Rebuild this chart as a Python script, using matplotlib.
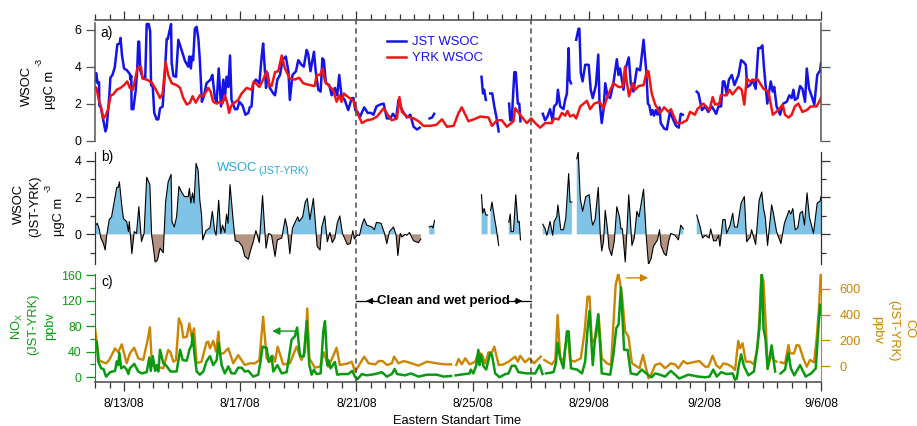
import numpy as np
import matplotlib
matplotlib.use('Agg')
import matplotlib.pyplot as plt

plt.rcParams['font.family'] = ['Liberation Sans', 'DejaVu Sans']

nan = float('nan')

# dados: (dias desde 8/12/08, valor)
jstWsoc = [(0,3.2),(.04,3.65),(.09,3.1),(.14,3.15),(.15,1.9),(.2,1.8),(.25,1.4),(.3,1.0),(.36,.5),(.4,.7),(.45,1.6),(.5,2.6),(.53,3.4),(.6,3.55),(.68,3.95),(.72,4.5),(.77,5.2),(.85,5.25),(.88,5.55),(.93,4.6),(1,3.9),(1.1,3.8),(1.2,3.6),(1.22,3.3),(1.25,3.5),(1.26,1.7),(1.32,1.7),(1.4,2.7),(1.45,3.7),(1.49,5.35),(1.52,5.35),(1.56,3.8),(1.64,3.4),(1.73,3.4),(1.78,6.3),(1.85,6.3),(1.9,5.9),(1.93,3.0),(1.99,2.9),(2.04,1.5),(2.12,1.15),(2.18,1.15),(2.24,1.75),(2.33,1.85),(2.41,3.8),(2.47,5.5),(2.51,5.5),(2.56,5.9),(2.62,6.3),(2.64,4.2),(2.7,3.5),(2.79,3.45),(2.87,5.45),(2.98,4.9),(3.1,4.3),(3.21,4.0),(3.25,4.55),(3.3,3.9),(3.34,4.55),(3.38,4.35),(3.44,6.05),(3.5,6.15),(3.56,5.5),(3.61,4.35),(3.68,2.1),(3.75,2.4),(3.84,3.1),(3.98,3.3),(4.04,3.55),(4.13,2.3),(4.19,2.1),(4.26,3.9),(4.34,1.85),(4.42,3.3),(4.47,2.2),(4.53,3.45),(4.59,2.9),(4.65,4.6),(4.7,2.2),(4.82,1.7),(4.9,1.7),(4.97,2.1),(5.08,1.9),(5.18,1.4),(5.28,1.5),(5.33,1.8),(5.39,1.85),(5.45,3.1),(5.54,3.3),(5.66,3.1),(5.74,4.55),(5.79,5.25),(5.89,2.85),(5.94,3.65),(6.02,2.85),(6.14,2.55),(6.2,2.45),(6.28,3.3),(6.37,3.55),(6.46,4.35),(6.57,4.55),(6.66,3.75),(6.71,2.2),(6.8,3.55),(6.92,3.75),(7,4.35),(7.11,4.1),(7.19,4.0),(7.29,4.9),(7.34,4.7),(7.42,3.75),(7.54,4.8),(7.6,3.75),(7.69,2.75),(7.77,2.65),(7.83,4.45),(7.88,4.35),(7.95,3.1),(8.07,3.0),(8.15,2.45),(8.26,2.85),(8.34,2.45),(8.41,3.55),(8.49,2.4),(8.6,2.2),(8.72,1.65),(8.84,2.3),(8.9,2.3),(8.96,1.65),(9.04,1.55),(9.13,1.3),(9.27,1.8),(9.39,1.5),(9.5,1.5),(9.59,1.4),(9.69,1.85),(9.82,1.95),(9.94,2.0),(10.05,1.2),(10.17,1.2),(10.26,1.45),(10.37,1.2),(10.45,2.2),(10.57,1.65),(10.74,1.25),(10.86,1.4),(10.97,.75),(11.09,.6),(11.18,.7),(11.3,nan),(11.52,1.2),(11.61,1.25),(11.68,1.45),(12,nan),(13.31,3.45),(13.36,2.55),(13.4,2.75),(13.46,2.2),(13.5,nan),(13.61,2.55),(13.68,2.55),(13.75,1.85),(13.82,1.3),(13.9,.5),(14,nan),(14.26,2.0),(14.3,1.1),(14.35,1.1),(14.44,3.7),(14.49,3.7),(14.56,2.0),(14.61,2.0),(14.65,1.05),(15,nan),(15.42,1.45),(15.5,1.1),(15.58,1.3),(15.67,1.7),(15.76,1.05),(15.81,1.85),(15.9,2.0),(15.94,2.75),(16.02,1.85),(16.13,1.7),(16.19,2.2),(16.25,2.55),(16.31,5.0),(16.34,3.3),(16.39,3.1),(16.45,nan),(16.57,5.45),(16.65,6.05),(16.68,6.05),(16.73,3.65),(16.79,3.2),(16.88,4.1),(17,4.1),(17.07,2.75),(17.14,2.3),(17.25,3.0),(17.33,4.65),(17.37,2.2),(17.45,.95),(17.51,1.65),(17.57,3.1),(17.65,2.4),(17.74,2.3),(17.85,3.1),(17.97,4.4),(18.03,3.55),(18.08,3.9),(18.2,2.75),(18.29,4.0),(18.38,4.5),(18.45,3.1),(18.54,2.65),(18.66,3.9),(18.77,3.8),(18.89,5.45),(18.98,3.8),(19.04,2.0),(19.09,1.9),(19.15,1.4),(19.2,1.65),(19.25,1.35),(19.31,1.65),(19.37,1.4),(19.44,1.8),(19.48,.95),(19.6,.65),(19.69,.6),(19.8,1.55),(19.92,1.1),(20.01,.8),(20.1,.7),(20.17,1.45),(20.24,1.4),(20.5,nan),(20.72,2.65),(20.78,2.55),(20.84,2.1),(20.9,1.65),(21.01,1.85),(21.12,1.55),(21.24,1.85),(21.39,1.45),(21.47,1.85),(21.56,1.85),(21.62,3.2),(21.67,3.2),(21.75,2.55),(21.83,3.3),(21.93,3.55),(22.02,3.0),(22.16,3.55),(22.25,4.35),(22.33,4.25),(22.41,4.1),(22.46,2.9),(22.56,3.0),(22.64,3.3),(22.75,2.8),(22.84,5.0),(22.92,5.0),(22.98,5.15),(23.04,3.9),(23.15,2.0),(23.27,3.2),(23.34,2.65),(23.39,2.9),(23.47,1.85),(23.59,1.4),(23.7,2.0),(23.82,2.1),(23.91,2.45),(23.99,2.3),(24.05,2.75),(24.1,2.2),(24.19,2.3),(24.28,2.95),(24.36,2.8),(24.45,2.1),(24.51,3.9),(24.59,2.8),(24.68,2.4),(24.77,1.95),(24.87,3.55),(24.97,3.8),(25,4.2)]

yrkWsoc = [(0,2.9),(.05,2.85),(.13,2.2),(.2,1.85),(.29,1.2),(.38,1.4),(.46,1.75),(.54,2.45),(.63,2.5),(.75,2.75),(.88,2.85),(1,3.0),(1.11,3.2),(1.2,2.85),(1.3,2.75),(1.38,3.3),(1.46,3.9),(1.58,4.0),(1.64,3.35),(1.78,3.3),(1.95,3.15),(2.1,2.75),(2.24,2.3),(2.33,2.55),(2.43,4.25),(2.52,3.55),(2.64,3.1),(2.81,3.0),(2.93,2.85),(3.04,2.3),(3.16,1.95),(3.27,2.05),(3.36,2.4),(3.47,2.05),(3.61,2.45),(3.73,2.4),(3.9,2.85),(3.98,2.65),(4.07,2.1),(4.19,2.0),(4.3,2.1),(4.39,2.0),(4.47,2.45),(4.56,2.0),(4.62,1.5),(4.68,1.85),(4.76,2.0),(4.93,2.2),(5.05,2.55),(5.22,2.85),(5.39,2.75),(5.47,3.2),(5.66,2.9),(5.79,3.3),(5.91,3.75),(6,3.0),(6.08,2.95),(6.2,3.7),(6.31,3.75),(6.43,4.6),(6.54,3.9),(6.71,3.35),(6.88,3.3),(7.03,3.4),(7.17,3.1),(7.4,3.0),(7.57,2.95),(7.63,3.55),(7.75,3.55),(7.84,3.9),(7.92,3.2),(8.09,2.9),(8.2,2.75),(8.32,2.1),(8.41,2.45),(8.49,2.1),(8.57,2.55),(8.72,2.35),(8.9,2.15),(9.02,1.55),(9.19,.95),(9.36,1.1),(9.54,1.15),(9.71,1.3),(9.94,1.75),(10.08,1.4),(10.22,1.1),(10.4,1.2),(10.48,2.35),(10.57,1.55),(10.74,1.3),(10.97,1.2),(11.14,1.05),(11.31,.8),(11.54,.8),(11.75,.85),(11.95,1.15),(12.12,.75),(12.35,.8),(12.52,1.5),(12.63,1.8),(12.86,1.05),(13.04,1.15),(13.27,1.3),(13.55,1.25),(13.67,.8),(13.84,1.1),(14.01,1.1),(14.18,.75),(14.41,1.05),(14.47,1.75),(14.64,1.4),(14.87,.95),(15.02,1.2),(15.16,.95),(15.33,.7),(15.5,.95),(15.73,.95),(15.81,1.2),(15.96,1.15),(16.08,1.5),(16.19,1.35),(16.27,1.6),(16.36,1.3),(16.48,1.4),(16.57,1.2),(16.71,1.85),(16.94,2.15),(17.05,1.7),(17.19,2.0),(17.37,2.1),(17.51,1.75),(17.65,2.4),(17.85,3.1),(18.03,2.9),(18.18,2.9),(18.25,4.0),(18.31,3.2),(18.39,2.4),(18.52,3.1),(18.6,2.75),(18.72,2.95),(18.89,3.0),(19,3.75),(19.06,3.75),(19.17,2.55),(19.29,1.95),(19.46,1.5),(19.6,1.8),(19.75,1.55),(19.83,1.7),(20.03,.95),(20.2,.95),(20.38,1.1),(20.49,1.55),(20.66,1.4),(20.74,1.7),(20.95,2.0),(21.16,1.65),(21.27,2.35),(21.35,1.95),(21.5,2.0),(21.55,2.45),(21.75,2.45),(21.85,2.75),(21.95,2.5),(22.16,2.9),(22.27,2.75),(22.36,1.95),(22.44,3.35),(22.56,3.2),(22.73,3.3),(22.82,3.3),(23.02,2.8),(23.19,2.65),(23.34,1.4),(23.53,1.65),(23.68,1.95),(23.76,1.4),(23.88,1.25),(23.99,1.4),(24.1,1.85),(24.22,2.0),(24.36,1.55),(24.51,1.65),(24.65,1.85),(24.85,1.85),(25,2.3)]

difWsoc = [(.02,.5),(.08,.6),(.15,.25),(.2,-.2),(.29,-.5),(.35,-.85),(.4,-.1),(.49,.8),(.57,.95),(.66,1.75),(.75,2.55),(.8,2.55),(.84,2.85),(.92,1.6),(.98,.85),(1.09,.7),(1.15,.15),(1.18,.7),(1.27,-1.05),(1.35,.15),(1.43,.05),(1.51,1.5),(1.6,-.4),(1.69,.05),(1.78,3.1),(1.89,2.7),(1.95,-.05),(2,-.6),(2.07,-1.5),(2.15,-1.4),(2.24,-.75),(2.35,-1.0),(2.43,1.75),(2.52,2.85),(2.62,3.25),(2.65,.7),(2.73,.4),(2.81,.95),(2.89,2.6),(2.98,2.3),(3.08,2.05),(3.21,2.05),(3.25,2.5),(3.3,1.7),(3.36,2.25),(3.41,1.7),(3.48,3.85),(3.55,3.5),(3.61,1.85),(3.67,1.05),(3.71,-.3),(3.82,.2),(3.96,.35),(4.04,1.25),(4.12,.2),(4.17,-.05),(4.26,1.85),(4.33,.05),(4.39,.5),(4.47,.1),(4.53,1.1),(4.58,.6),(4.65,2.7),(4.76,.7),(4.83,-.35),(4.95,-.4),(5.07,-.65),(5.16,-1.2),(5.28,-1.35),(5.36,-.85),(5.45,-.4),(5.54,.2),(5.66,-.45),(5.77,2.1),(5.82,.85),(5.89,-.75),(5.98,.05),(6.08,-.05),(6.2,-1.2),(6.28,-.3),(6.43,-.2),(6.55,.85),(6.62,.35),(6.71,-1.05),(6.8,.35),(6.98,.95),(7.03,.7),(7.15,.95),(7.24,1.75),(7.31,1.95),(7.4,.8),(7.52,1.95),(7.58,.8),(7.65,-.65),(7.75,-.85),(7.81,.4),(7.91,1.0),(8,-.4),(8.09,.1),(8.17,-.45),(8.26,-.2),(8.34,.6),(8.43,1.0),(8.52,.05),(8.69,-.55),(8.79,-.5),(8.88,.2),(8.93,-.25),(9.02,-.05),(9.11,-.05),(9.19,.5),(9.27,.85),(9.36,.5),(9.54,.4),(9.62,.25),(9.69,.65),(9.85,.6),(9.97,.05),(10.05,-.5),(10.14,.15),(10.28,.4),(10.37,-.05),(10.43,-1.15),(10.51,.05),(10.57,-.15),(10.68,0),(10.74,-.05),(10.83,.1),(10.97,-.35),(11.14,-.45),(11.22,-.25),(11.3,nan),(11.51,.4),(11.6,.45),(11.64,.35),(11.69,.75),(12,nan),(13.31,2.15),(13.35,1.15),(13.4,1.4),(13.46,1.05),(13.52,1.05),(13.56,nan),(13.62,1.3),(13.67,1.75),(13.75,.95),(13.82,.3),(13.9,-.6),(14,nan),(14.25,.65),(14.3,1.1),(14.33,.15),(14.41,.15),(14.49,2.15),(14.56,.65),(14.61,.7),(14.65,-.3),(15,nan),(15.42,.55),(15.5,.3),(15.56,-.05),(15.67,.7),(15.76,-.05),(15.81,.7),(15.9,.95),(15.94,1.6),(16.04,.25),(16.13,.25),(16.21,.85),(16.31,3.3),(16.36,1.75),(16.42,1.75),(16.5,nan),(16.59,4.1),(16.64,4.45),(16.71,1.95),(16.79,1.25),(16.9,2.05),(17.02,2.15),(17.1,.8),(17.14,.5),(17.22,.8),(17.33,2.55),(17.4,-.05),(17.45,-.9),(17.51,-.4),(17.57,1.3),(17.65,.25),(17.7,-.75),(17.79,-1.15),(17.88,-.4),(17.97,1.5),(18.06,.95),(18.11,.3),(18.16,.3),(18.26,-1.5),(18.38,2.15),(18.49,-.6),(18.57,-.2),(18.66,1.25),(18.73,.95),(18.89,2.45),(18.98,-.05),(19.06,-1.65),(19.15,-1.3),(19.23,-.65),(19.29,-.5),(19.37,-.3),(19.44,.25),(19.49,-.6),(19.6,-1.05),(19.67,-1.15),(19.75,-.4),(19.83,.05),(19.97,-.05),(20.09,-.3),(20.17,.5),(20.26,.3),(20.5,nan),(20.72,1.05),(20.84,.4),(20.92,-.2),(21.01,-.05),(21.15,-.2),(21.2,.3),(21.3,-.35),(21.39,-.35),(21.47,-.05),(21.52,-.65),(21.62,.8),(21.7,.8),(21.75,.05),(21.87,.5),(21.96,1.15),(22.02,.4),(22.12,.4),(22.25,1.7),(22.36,2.05),(22.44,-.4),(22.56,-.15),(22.61,.25),(22.75,-.55),(22.87,1.85),(22.96,2.3),(23.02,1.4),(23.08,.95),(23.16,-.6),(23.3,1.6),(23.36,1.15),(23.47,.15),(23.62,-.5),(23.74,.6),(23.9,1.3),(23.96,1.1),(24.03,1.4),(24.11,.25),(24.2,.35),(24.28,1.15),(24.36,1.25),(24.43,.5),(24.52,2.25),(24.6,.95),(24.74,.05),(24.87,1.7),(24.97,1.8),(25,2.05)]

noxDif = [(0,46),(.06,56),(.11,25),(.21,14),(.29,13),(.38,1),(.52,8),(.69,10),(.75,25),(.8,19),(.84,38),(.9,14),(1,17),(1.09,12),(1.15,5),(1.2,14),(1.35,21),(1.49,9),(1.61,6),(1.78,8),(1.87,31),(1.92,10),(1.99,33),(2.07,10),(2.12,19),(2.18,9),(2.24,43),(2.35,22),(2.44,19),(2.6,9),(2.81,9),(2.93,43),(3.02,27),(3.16,26),(3.25,43),(3.33,51),(3.36,68),(3.42,38),(3.5,9),(3.61,4),(3.73,9),(3.84,25),(3.96,33),(4.07,19),(4.19,27),(4.26,54),(4.36,19),(4.47,6),(4.59,17),(4.7,6),(4.82,6),(4.93,15),(5.05,15),(5.16,9),(5.28,10),(5.45,1),(5.62,4),(5.7,25),(5.77,48),(5.91,46),(5.98,24),(6.08,33),(6.14,9),(6.28,19),(6.43,6),(6.6,8),(6.77,59),(6.88,64),(6.96,78),(7.06,33),(7.19,33),(7.29,88),(7.38,19),(7.46,4),(7.54,12),(7.63,5),(7.77,6),(7.86,72),(7.92,88),(8,19),(8.03,27),(8.11,14),(8.26,24),(8.34,4),(8.49,5),(8.72,5),(8.86,10),(8.95,1),(9.04,-3),(9.19,5),(9.36,3),(9.65,5),(9.88,8),(10.05,1),(10.22,5),(10.32,13),(10.4,5),(10.68,3),(10.88,6),(11.14,1),(11.43,4),(11.77,4),(12,1),(12.26,2),(12.34,nan),(12.42,3),(12.75,5),(12.9,6),(12.94,12),(13.03,6),(13.13,19),(13.2,43),(13.24,19),(13.29,35),(13.38,17),(13.47,12),(13.61,38),(13.67,35),(13.78,6),(13.93,0),(14.13,5),(14.24,6),(14.35,18),(14.47,18),(14.58,8),(14.87,6),(15.16,6),(15.31,19),(15.41,5),(15.47,nan),(15.53,6),(15.79,8),(15.87,22),(15.93,54),(16.02,30),(16.13,14),(16.25,72),(16.31,72),(16.39,14),(16.6,12),(16.77,6),(16.88,25),(16.96,75),(17.03,104),(17.14,19),(17.22,62),(17.33,99),(17.45,6),(17.74,4),(17.85,35),(17.95,77),(18.03,83),(18.11,141),(18.22,43),(18.34,43),(18.45,6),(18.66,4),(18.83,12),(19.06,3),(19.17,0),(19.29,6),(19.46,4),(19.63,1),(19.83,10),(20.12,-2),(20.43,4),(20.78,1),(21.01,0),(21.16,1),(21.29,12),(21.41,1),(21.56,8),(21.75,5),(21.96,6),(22.04,-4),(22.1,-2),(22.17,19),(22.25,36),(22.35,17),(22.5,3),(22.69,9),(22.79,41),(22.88,77),(22.96,164),(23.02,77),(23.09,59),(23.16,13),(23.3,50),(23.42,9),(23.5,nan),(23.61,6),(23.76,12),(23.88,38),(23.96,14),(24.08,3),(24.28,19),(24.47,1),(24.66,6),(24.82,14),(24.91,77),(24.97,114),(25,98)]

coDif = [(0,294),(.06,191),(.14,49),(.23,36),(.38,23),(.49,49),(.69,139),(.8,108),(.92,170),(1.09,23),(1.2,100),(1.35,144),(1.49,62),(1.66,49),(1.8,191),(1.89,302),(1.96,10),(2.07,-3),(2.35,-15),(2.52,126),(2.6,108),(2.7,36),(2.79,49),(2.89,371),(2.98,320),(3.04,222),(3.16,229),(3.25,332),(3.33,229),(3.41,294),(3.5,23),(3.67,36),(3.84,186),(3.9,191),(3.96,139),(4.07,196),(4.17,113),(4.25,268),(4.3,100),(4.42,100),(4.59,139),(4.76,23),(4.93,87),(5.16,10),(5.33,23),(5.51,23),(5.66,49),(5.79,384),(5.91,62),(6.02,36),(6.12,82),(6.2,36),(6.29,152),(6.48,15),(6.71,23),(6.94,152),(7.11,49),(7.23,113),(7.31,448),(7.38,62),(7.57,-10),(7.75,-3),(7.88,108),(8.03,-3),(8.17,62),(8.32,144),(8.43,10),(8.72,23),(8.84,36),(8.96,-41),(9.11,15),(9.27,75),(9.42,23),(9.65,15),(9.77,41),(9.9,41),(10.05,10),(10.22,23),(10.3,75),(10.45,23),(10.63,41),(10.91,23),(11.14,5),(11.43,36),(11.77,23),(12.06,15),(12.26,15),(12.34,nan),(12.44,10),(12.52,57),(12.63,15),(12.75,62),(12.9,15),(13.09,36),(13.21,108),(13.32,93),(13.44,23),(13.55,108),(13.67,108),(13.75,152),(13.9,10),(14.07,15),(14.24,36),(14.47,75),(14.56,36),(14.64,82),(14.81,31),(14.96,62),(15.12,23),(15.35,75),(15.41,nan),(15.47,49),(15.73,15),(15.85,49),(15.93,397),(16.02,62),(16.13,49),(16.27,268),(16.36,49),(16.5,36),(16.73,62),(16.86,268),(16.96,539),(17.03,539),(17.11,178),(17.26,229),(17.34,397),(17.45,62),(17.63,23),(17.77,10),(17.93,629),(18.02,719),(18.14,564),(18.26,268),(18.37,229),(18.49,23),(18.75,-15),(18.87,88),(18.95,10),(19.06,-93),(19.17,-54),(19.29,10),(19.46,23),(19.63,-15),(19.83,23),(19.97,15),(20.09,-15),(20.26,41),(20.38,21),(20.81,41),(21.01,-3),(21.12,-3),(21.27,82),(21.39,10),(21.52,-15),(21.64,23),(21.78,15),(21.93,-3),(22.04,-28),(22.15,196),(22.21,139),(22.3,178),(22.41,36),(22.56,36),(22.69,15),(22.81,139),(22.88,384),(22.95,720),(23.02,655),(23.11,268),(23.16,-15),(23.3,100),(23.36,49),(23.47,36),(23.54,nan),(23.61,31),(23.76,23),(23.88,165),(23.93,100),(24.07,100),(24.16,165),(24.25,160),(24.39,62),(24.51,-3),(24.62,49),(24.76,31),(24.85,216),(24.93,448),(24.99,719),(25,719)]

# ticks do eixo x
datasTicks = [1, 5, 9, 13, 17, 21, 25]
datasLabels = ['8/13/08', '8/17/08', '8/21/08', '8/25/08', '8/29/08', '9/2/08', '9/6/08']
periodoLimpo = [9, 15]

AZUL = '#1414e6'
VERMELHO = '#f01414'
VERDE = '#0a9a10'
LARANJA = '#cc8500'
CINZA = '#555555'
TAM = 8.9

largura, altura = 917, 426


def caixa(topo, baixo):
    # posicao do axes em pixels da imagem
    return [95/largura, 1-baixo/altura, (821-95)/largura, (baixo-topo)/altura]


def separar(pontos):
    arr = np.array(pontos, dtype=float)
    return arr[:, 0], arr[:, 1]


def ticksX(ax):
    ax.set_xlim(0, 25)
    ax.set_xticks(datasTicks)
    ax.set_xticks(np.arange(0, 25.5, 0.5), minor=True)


def textoFig(x, y, s, **kw):
    # texto em pixels da imagem
    kw.setdefault('ha', 'center')
    kw.setdefault('va', 'center')
    kw.setdefault('fontsize', TAM)
    fig.text(x/largura, 1-y/altura, s, **kw)


fig = plt.figure(figsize=(largura/100, altura/100), dpi=100)

# painel a
axA = fig.add_axes(caixa(20, 141))
t, v = separar(jstWsoc)
axA.plot(t, v, color=AZUL, lw=1.8, solid_joinstyle='round')
t, v = separar(yrkWsoc)
axA.plot(t, v, color=VERMELHO, lw=1.8, solid_joinstyle='round')
axA.set_ylim(-0.02, 6.52)
ticksX(axA)
axA.xaxis.tick_top()
axA.tick_params(axis='x', which='major', length=6.5, width=0.9, color='#333333', labeltop=False)
axA.tick_params(axis='x', which='minor', length=4, width=0.9, color='#333333')
axA.set_yticks([0, 2, 4, 6])
axA.tick_params(axis='y', length=6.5, width=0.9, color=CINZA, labelsize=TAM, pad=3.5, right=True)
axA.spines['bottom'].set_visible(False)
axA.spines['top'].set_color(CINZA)
axA.spines['top'].set_linewidth(1.2)
for lado in ['left', 'right']:
    axA.spines[lado].set_color(CINZA)
    axA.spines[lado].set_linewidth(1.1)
    axA.spines[lado].set_bounds(-0.02, 6.35)
axA.patch.set_visible(False)

# painel b
axB = fig.add_axes(caixa(152, 264))
t, v = separar(difWsoc)
axB.fill_between(t, v, 0, where=v >= 0, interpolate=True, color='#7fc4e6', lw=0)
axB.fill_between(t, v, 0, where=v <= 0, interpolate=True, color='#b39482', lw=0)
axB.plot(t, v, color='black', lw=0.8)
axB.set_ylim(-1.61, 4.47)
axB.set_xlim(0, 25)
axB.set_xticks([])
axB.set_yticks([-1, 1, 3], minor=True)
axB.set_yticks([0, 2, 4])
axB.tick_params(axis='y', which='major', length=6.5, width=0.9, color='#333333', labelsize=TAM, pad=3.5, right=True)
axB.tick_params(axis='y', which='minor', length=3.5, width=0.9, color='#333333', right=True)
axB.spines['top'].set_visible(False)
axB.spines['bottom'].set_visible(False)
axB.patch.set_visible(False)
for lado in ['left', 'right']:
    axB.spines[lado].set_linewidth(0.9)
    axB.spines[lado].set_color('#333333')

# painel c
axC = fig.add_axes(caixa(274, 381.7))
axCO = axC.twinx()
axC.set_zorder(axCO.get_zorder()+1)
axC.patch.set_visible(False)
t, v = separar(coDif)
axCO.plot(t, v, color=LARANJA, lw=1.7, solid_joinstyle='round')
t, v = separar(noxDif)
axC.plot(t, v, color=VERDE, lw=1.8, solid_joinstyle='round')
axC.set_ylim(-7, 162)
axCO.set_ylim(-119, 714)
ticksX(axC)
axC.set_xticklabels(datasLabels)
axC.tick_params(axis='x', which='major', length=6.5, width=0.9, color='#333333', labelsize=8.8, pad=5)
axC.tick_params(axis='x', which='minor', length=4, width=0.9, color='#333333')
axC.set_yticks([0, 40, 80, 120, 160])
axC.set_yticks([20, 60, 100, 140], minor=True)
axC.tick_params(axis='y', which='major', length=6.5, width=0.9, color=VERDE, labelcolor=VERDE, labelsize=TAM, pad=3)
axC.tick_params(axis='y', which='minor', length=3.5, width=0.9, color=VERDE)
axCO.set_yticks([0, 200, 400, 600])
axCO.tick_params(axis='y', length=6.5, width=0.9, color=LARANJA, labelcolor=LARANJA, labelsize=9.2, pad=7)
for a in [axC, axCO]:
    a.spines['top'].set_visible(False)
    a.spines['bottom'].set_color(CINZA)
    a.spines['bottom'].set_linewidth(1.2)
    a.spines['left'].set_color(VERDE)
    a.spines['right'].set_color(LARANJA)
axCO.spines['left'].set_visible(False)
axC.spines['right'].set_visible(False)
axCO.spines['bottom'].set_visible(False)

# linhas tracejadas do periodo limpo, atravessam os 3 paineis
axTopo = fig.add_axes(caixa(20, 381.7))
axTopo.set_xlim(0, 25)
axTopo.set_ylim(0, 1)
axTopo.axis('off')
axTopo.set_zorder(10)
for dia in periodoLimpo:
    axTopo.axvline(dia, color='#4a4a4a', lw=1.1, ls=(0, (3.5, 2.5)))

# letras dos paineis
textoFig(107, 33, 'a)', fontsize=10)
textoFig(107, 157, 'b)', fontsize=10)
textoFig(107, 282, 'c)', fontsize=10)

# legenda do painel a
axA.plot([10.05, 10.71], [5.37, 5.37], color=AZUL, lw=1.8)
axA.plot([10.05, 10.71], [4.5, 4.5], color=VERMELHO, lw=1.8)
textoFig(412, 42, 'JST WSOC', ha='left', color=AZUL, fontsize=9.4)
textoFig(412, 58, 'YRK WSOC', ha='left', color=AZUL, fontsize=9.4)

textoFig(217, 168, 'WSOC', ha='left', color='#29abe2', fontsize=9.4)
textoFig(258, 171, '(JST-YRK)', ha='left', color='#29abe2', fontsize=7.6)

# titulos dos eixos y
textoFig(27, 86, 'WSOC', rotation=90, fontsize=9.3)
textoFig(50, 90, 'µgC m', rotation=90, fontsize=9.3)
textoFig(39, 62, '-3', rotation=90, fontsize=6.5)
textoFig(19, 204, 'WSOC', rotation=90, fontsize=9.3)
textoFig(35, 206, '(JST-YRK)', rotation=90, fontsize=9.3)
textoFig(59, 217, 'µgC m', rotation=90, fontsize=9.3)
textoFig(48, 188, '-3', rotation=90, fontsize=6.5)
textoFig(17, 326, r'NO$_{\mathregular{X}}$', rotation=90, color=VERDE, fontsize=9.3)
textoFig(33, 324, '(JST-YRK)', rotation=90, color=VERDE, fontsize=9.3)
textoFig(50, 326, 'ppbv', rotation=90, color=VERDE, fontsize=9.3)
textoFig(909, 329, 'CO', rotation=270, color=LARANJA, fontsize=9.3)
textoFig(893, 331, '(JST-YRK)', rotation=270, color=LARANJA, fontsize=9.3)
textoFig(877, 330, 'ppbv', rotation=270, color=LARANJA, fontsize=9.3)
textoFig(457, 421, 'Eastern Standart Time', fontsize=9.3)

# setas do painel c
axTopo.annotate('', xy=(6.1, 0.14), xytext=(6.9, 0.14),
                arrowprops=dict(arrowstyle='-|>', color=VERDE, lw=1.0, shrinkA=0, shrinkB=0, mutation_scale=11))
axTopo.annotate('', xy=(19.05, 0.287), xytext=(18.3, 0.287),
                arrowprops=dict(arrowstyle='-|>', color=LARANJA, lw=1.0, shrinkA=0, shrinkB=0, mutation_scale=11))

# periodo limpo e umido
axTopo.text(12, 0.223, 'Clean and wet period', ha='center', va='center', fontweight='bold', fontsize=9.5)
axTopo.plot([9, 9.75], [0.223, 0.223], color='black', lw=0.9)
axTopo.plot([14.25, 15], [0.223, 0.223], color='black', lw=0.9)
axTopo.annotate('', xy=(9.33, 0.223), xytext=(9.6, 0.223),
                arrowprops=dict(arrowstyle='-|>', color='black', lw=0.9, shrinkA=0, shrinkB=0, mutation_scale=9))
axTopo.annotate('', xy=(14.72, 0.223), xytext=(14.45, 0.223),
                arrowprops=dict(arrowstyle='-|>', color='black', lw=0.9, shrinkA=0, shrinkB=0, mutation_scale=9))

fig.savefig('out.png', dpi=100)
